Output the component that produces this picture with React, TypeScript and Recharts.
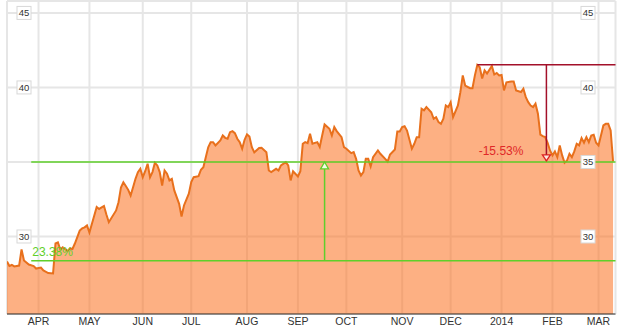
import React from 'react';
import { AreaChart, Area, XAxis, YAxis, CartesianGrid, ReferenceLine, ReferenceDot } from 'recharts';

// trading-day index (0 = mid March 2013) and closing price
const tradingDay = [
  0, 1, 2, 3, 5, 6, 7, 9, 11, 12, 14, 15, 17, 19, 20, 21, 22, 23, 25, 26, 27, 28, 30, 31, 32, 33, 34, 36, 37, 38,
  40, 41, 42, 45, 46, 47, 48, 49, 50, 51, 52, 53, 54, 55, 56, 57, 58, 59, 60, 61, 62, 63, 64, 65, 66, 67, 68, 69, 71, 72,
  73, 75, 76, 77, 79, 80, 81, 82, 83, 84, 85, 86, 88, 89, 90, 91, 92, 93, 94, 95, 96, 97, 98, 99, 100, 101, 102, 104, 105, 107,
  108, 109, 111, 112, 113, 115, 116, 117, 118, 120, 121, 122, 123, 124, 125, 126, 128, 129, 130, 131, 133, 134, 135, 136, 138, 139, 140, 142, 143, 144,
  145, 146, 147, 148, 149, 150, 151, 153, 154, 156, 157, 158, 160, 161, 162, 163, 164, 165, 167, 168, 169, 170, 171, 172, 173, 175, 176, 177, 178, 179,
  180, 181, 182, 183, 184, 186, 187, 188, 189, 191, 192, 193, 194, 195, 196, 197, 198, 200, 201, 202, 203, 204, 205, 206, 208, 209, 210, 212, 213, 214,
  215, 216, 217, 218, 219, 220, 221, 222, 223, 224, 225, 226, 227, 228, 229, 230, 231, 232, 233, 234, 235, 236, 237, 238, 239, 240, 241, 242, 243, 244,
  245, 246, 247, 248, 249, 250,
];
const closePrice = [
  28.32, 28.02, 28.09, 27.99, 28.05, 29.13, 28.39, 28.12, 28.02, 27.85, 27.92, 27.72, 27.55, 27.52, 29.53, 29.6, 29.13, 29.28, 29.03, 29.2, 29.16, 29.53, 30.4, 30.54, 30.61, 30.74, 30.27, 31.41, 31.98, 31.85,
  32.05, 31.48, 30.96, 31.75, 32.3, 33.29, 33.64, 33.39, 33.13, 32.75, 33.31, 33.87, 34.32, 34.54, 33.98, 34.38, 34.88, 33.98, 34.32, 34.95, 34.77, 34.32, 33.42, 34.43, 34.21, 33.76, 33.87, 33.09, 32.19, 31.34,
  32.08, 32.87, 33.65, 33.98, 34.05, 34.48, 34.65, 35.32, 35.99, 36.33, 36.33, 36.11, 36.44, 36.78, 36.62, 36.56, 37.0, 37.07, 36.93, 36.56, 36.33, 35.89, 36.49, 36.85, 36.71, 35.99, 35.64, 35.94, 35.95, 35.66,
  34.43, 34.32, 34.54, 34.43, 34.77, 34.99, 34.77, 33.76, 34.38, 34.03, 34.38, 36.22, 36.33, 36.26, 36.89, 36.22, 36.33, 36.0, 36.78, 37.52, 37.23, 36.78, 37.34, 37.07, 36.66, 35.99, 35.89, 35.59, 35.66, 35.21,
  34.43, 34.09, 34.32, 35.21, 35.21, 34.7, 35.32, 35.77, 35.55, 35.21, 35.03, 35.5, 35.84, 37.05, 37.05, 37.34, 37.4, 37.11, 35.89, 36.22, 36.66, 36.66, 38.57, 38.46, 38.68, 38.34, 37.9, 38.01, 37.67, 37.56,
  37.9, 38.79, 38.68, 39.01, 38.01, 38.79, 39.68, 40.81, 40.13, 39.95, 39.95, 40.81, 41.51, 41.36, 40.6, 41.14, 40.94, 41.44, 40.87, 40.97, 40.81, 40.84, 39.8, 40.34, 40.4, 40.4, 39.8, 39.69, 39.91, 39.35,
  39.01, 38.79, 38.68, 38.91, 38.24, 36.83, 36.73, 36.67, 36.29, 35.77, 35.44, 35.71, 35.32, 36.11, 35.44, 34.95, 35.1, 35.55, 35.32, 35.71, 36.22, 36.11, 36.6, 36.29, 36.67, 36.33, 36.78, 36.83, 36.29, 36.11,
  36.78, 37.45, 37.56, 37.56, 37.11, 35.03,
];

const monthTickDays = [13, 34, 56, 76, 99, 120, 140, 163, 183, 204, 225, 244];
const monthLabels = ['APR', 'MAY', 'JUN', 'JUL', 'AUG', 'SEP', 'OCT', 'NOV', 'DEC', '2014', 'FEB', 'MAR'];
const leftPriceTicks = [30, 40, 45];
const rightPriceTicks = [30, 35, 40, 45];

// gain annotation (green) and drawdown annotation (red)
const gainStartDay = 10;
const gainMarkerDay = 131;
const gainLow = 28.37;
const gainHigh = 35.0;
const gainLabel = '23.38%';
const drawPeakDay = 194;
const drawMarkerDay = 222.5;
const drawPeak = 41.52;
const drawLow = 35.07;
const drawLabel = '-15.53%';

const data = tradingDay.map((d, i) => ({ day: d, close: closePrice[i] }));

const FONT = "'Liberation Sans Narrow', 'Arial Narrow', 'Liberation Sans', Arial, sans-serif";
const GREEN = '#5fcf2a';
const RED = '#a3102a';

const makeTick = (cxFixed: number) => (props: any) => {
  const { y, payload } = props;
  return (
    <g>
      <rect x={cxFixed - 7} y={y - 6.5} width={14} height={13} fill="#fff" stroke="#d8d8d8" strokeWidth={1} />
      <text x={cxFixed} y={y} dy="0.35em" textAnchor="middle" fontSize={9.5} fontFamily={FONT} fill="#333">
        {payload.value}
      </text>
    </g>
  );
};

export default function App() {
  return (
    <div style={{ position: 'absolute', left: 0, top: 0, width: 622, height: 329, background: '#fff' }}>
      <AreaChart width={622} height={329} data={data} margin={{ top: 1, right: 5.5, bottom: 0, left: 6 }}>
        <CartesianGrid yAxisId="R" stroke="#e6e6e6" strokeWidth={2} />
        <XAxis
          dataKey="day"
          type="number"
          domain={[0, 251]}
          ticks={monthTickDays}
          tickFormatter={(v: number) => monthLabels[monthTickDays.indexOf(v)]}
          height={15}
          tickLine={false}
          tickSize={0}
          tickMargin={4}
          axisLine={{ stroke: '#333', strokeWidth: 1 }}
          tick={{ fontSize: 10.5, fill: '#333', fontFamily: FONT }}
          allowDataOverflow
        />
        <YAxis yAxisId="L" domain={[24.8, 45.8]} ticks={leftPriceTicks} width={1} axisLine={false} tickLine={false} tick={makeTick(24)} allowDataOverflow />
        <YAxis yAxisId="R" orientation="right" domain={[24.8, 45.8]} ticks={rightPriceTicks} width={1} axisLine={false} tickLine={false} tick={makeTick(588)} allowDataOverflow />
        <Area
          yAxisId="L"
          type="linear"
          dataKey="close"
          stroke="#e8701c"
          strokeWidth={2}
          fill="#fc6f1e"
          fillOpacity={0.55}
          dot={false}
          activeDot={false}
          isAnimationActive={false}
        />
        <ReferenceLine yAxisId="L" segment={[{ x: gainStartDay, y: gainHigh }, { x: 251, y: gainHigh }]} stroke={GREEN} strokeWidth={1.5} />
        <ReferenceLine yAxisId="L" segment={[{ x: gainStartDay, y: gainLow }, { x: 251, y: gainLow }]} stroke={GREEN} strokeWidth={1.5} />
        <ReferenceLine yAxisId="L" segment={[{ x: gainMarkerDay, y: gainLow }, { x: gainMarkerDay, y: gainHigh }]} stroke={GREEN} strokeWidth={1.5} />
        <ReferenceLine yAxisId="L" segment={[{ x: drawPeakDay, y: drawPeak }, { x: 251, y: drawPeak }]} stroke={RED} strokeWidth={1.5} />
        <ReferenceLine yAxisId="L" segment={[{ x: drawMarkerDay, y: drawPeak }, { x: drawMarkerDay, y: drawLow }]} stroke={RED} strokeWidth={1.5} />
        <ReferenceDot
          yAxisId="L"
          x={gainMarkerDay}
          y={gainHigh}
          r={4}
          shape={(p: any) => (
            <path d={`M${p.cx},${p.cy} L${p.cx + 4},${p.cy + 7} L${p.cx - 4},${p.cy + 7} Z`} fill="#f4fbe8" stroke={GREEN} strokeWidth={1.3} />
          )}
        />
        <ReferenceDot
          yAxisId="L"
          x={drawMarkerDay}
          y={drawLow}
          r={4}
          shape={(p: any) => (
            <path d={`M${p.cx},${p.cy} L${p.cx + 4},${p.cy - 6} L${p.cx - 4},${p.cy - 6} Z`} fill="#fbe6e0" stroke="#d22" strokeWidth={1.3} />
          )}
        />
        <ReferenceDot
          yAxisId="L"
          x={gainStartDay}
          y={gainLow}
          r={1}
          shape={(p: any) => (
            <text x={p.cx + 1} y={p.cy - 5} fontSize={12} fontFamily="'Liberation Sans', Arial, sans-serif" fill={GREEN}>
              {gainLabel}
            </text>
          )}
        />
        <ReferenceDot
          yAxisId="L"
          x={drawMarkerDay}
          y={drawLow}
          r={1}
          shape={(p: any) => (
            <text x={p.cx - 23} y={p.cy - 5.5} textAnchor="end" fontSize={12} fontFamily="'Liberation Sans', Arial, sans-serif" fill="#e02828">
              {drawLabel}
            </text>
          )}
        />
      </AreaChart>
    </div>
  );
}
